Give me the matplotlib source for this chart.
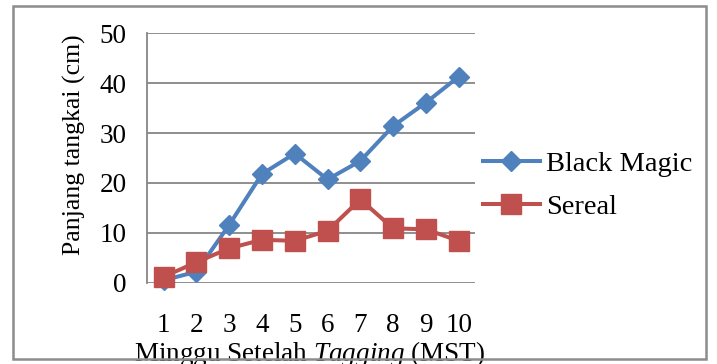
import matplotlib
matplotlib.use('Agg')
from matplotlib import pyplot as plt
from matplotlib.patches import Rectangle

plt.rcParams['font.family'] = ['Liberation Serif', 'DejaVu Serif']
plt.rcParams['mathtext.fontset'] = 'custom'
plt.rcParams['mathtext.rm'] = 'Liberation Serif'
plt.rcParams['mathtext.it'] = 'Liberation Serif:italic'

# data
minggu = [1, 2, 3, 4, 5, 6, 7, 8, 9, 10]
black_magic = [0.5, 2.2, 11.6, 21.8, 25.9, 20.7, 24.4, 31.4, 36.1, 41.3]
sereal = [1.2, 4.1, 6.9, 8.6, 8.4, 10.4, 16.7, 10.9, 10.7, 8.4]
y_ticks = [0, 10, 20, 30, 40, 50]

W, H = 717, 364
fig = plt.figure(figsize=(W / 100, H / 100), dpi=100)
ax = fig.add_axes([147.3 / W, 1 - 282.7 / H, (475 - 147.3) / W, (282.7 - 33.3) / H])

ax.plot(minggu, black_magic, color='#4F81BD', lw=2.9, marker='D', ms=10,
        label='Black Magic', clip_on=False, zorder=3)
ax.plot(minggu, sereal, color='#C0504D', lw=2.9, marker='s', ms=14,
        label='Sereal', clip_on=False, zorder=4)

ax.set_xlim(0.5, 10.5)
ax.set_ylim(0, 50)
ax.set_xticks(minggu)
ax.set_yticks(y_ticks)
ax.tick_params(axis='both', length=0, labelsize=19.5)
ax.tick_params(axis='y', pad=15)
ax.tick_params(axis='x', pad=22)
ax.grid(axis='y', color='#868686', lw=1.3)
ax.set_axisbelow(True)
for s in ['top', 'right', 'bottom']:
    ax.spines[s].set_visible(False)
ax.spines['left'].set_color('#868686')
ax.spines['left'].set_linewidth(1.3)

# axis titles
fig.text(74 / W, 1 - 145 / H, 'Panjang tangkai (cm)', rotation=90,
         ha='center', va='center', fontsize=18.5)
fig.text(310 / W, 1 - 354 / H, r'Minggu Setelah $\mathit{Tagging}$ (MST)',
         ha='center', va='center', fontsize=19.5)

leg = ax.legend(loc='center left', bbox_to_anchor=((483 - 147.3) / 327.7, 0.39),
                frameon=False, fontsize=20.5, handlelength=2.0, handletextpad=0.2,
                labelspacing=0.6, borderpad=0, borderaxespad=0)

# outer chart border
fig.patches.append(Rectangle((13 / W, 1 - 359 / H), (706 - 13) / W, (359 - 6) / H,
                             transform=fig.transFigure, fill=False,
                             edgecolor='#8c8c8c', lw=1.8, zorder=10))

fig.savefig('out.png', dpi=100)
